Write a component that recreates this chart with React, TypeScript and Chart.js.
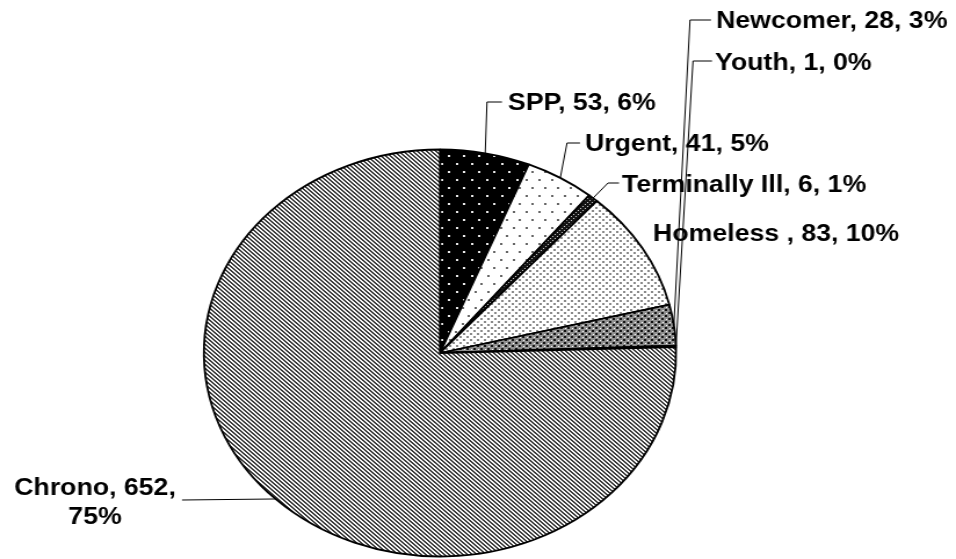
import React, { useEffect, useRef } from 'react';
import { Chart, registerables } from 'chart.js';

Chart.register(...registerables);

// ---------- data ----------
const categories = ['SPP', 'Urgent', 'Terminally Ill', 'Homeless ', 'Newcomer', 'Youth', 'Chrono'];
const counts = [53, 41, 6, 83, 28, 1, 652];

// ---------- layout (page pixels) ----------
const PAGE_W = 956;
const PAGE_H = 559;
const STRETCH = 1.16; // the reference is horizontally stretched
const CANVAS_W = Math.round(PAGE_W / STRETCH);
const SX = PAGE_W / CANVAS_W;
const PIE_CX = 440;
const PIE_CY = 353;
const PIE_R = 203.5;
const FONT = 'bold 23px "Liberation Sans", Arial, Helvetica, sans-serif';

type Pt = [number, number];
interface LabelPos {
  x: number;
  base: number;
  align: 'left' | 'center';
  split?: boolean;
  lineGap?: number;
  leader: Pt[] | null;
}
const labelLayout: LabelPos[] = [
  { x: 508, base: 110, align: 'left', leader: [[502, 102], [487, 102]] },
  { x: 585, base: 150.5, align: 'left', leader: [[580, 143], [567, 143]] },
  { x: 622, base: 191.5, align: 'left', leader: [[619, 183], [608, 183]] },
  { x: 653, base: 240.7, align: 'left', leader: null },
  { x: 716, base: 28.3, align: 'left', leader: [[711, 20], [690, 20]] },
  { x: 715, base: 70, align: 'left', leader: [[712, 61], [693, 61]] },
  { x: 95, base: 495, align: 'center', split: true, lineGap: 28.5, leader: [[182, 500]] },
];

// ---------- patterns ----------
function makeTile(w: number, h: number, fn: (x: number, y: number) => string): HTMLCanvasElement {
  const c = document.createElement('canvas');
  c.width = w;
  c.height = h;
  const g = c.getContext('2d')!;
  for (let y = 0; y < h; y++) {
    for (let x = 0; x < w; x++) {
      g.fillStyle = fn(x, y);
      g.fillRect(x, y, 1, 1);
    }
  }
  return c;
}
function inDot(x: number, y: number, dots: Pt[], s: number) {
  return dots.some(([dx, dy]) => x >= dx && x < dx + s && y >= dy && y < dy + s);
}

function buildPatterns(ctx: CanvasRenderingContext2D): (CanvasPattern | string)[] {
  const spp = makeTile(13, 16, (x, y) => (inDot(x, y, [[3, 3], [9, 11]], 2) ? '#e8e8e8' : '#000000'));
  const urgent = makeTile(11, 16, (x, y) => (inDot(x, y, [[2, 3], [7, 11]], 2) ? '#666666' : '#ffffff'));
  const term = makeTile(4, 4, (x, y) => ((x === 0 && y === 0) || (x === 2 && y === 2) ? '#c8c8c8' : '#151515'));
  const homeless = makeTile(6, 6, (x, y) => (inDot(x, y, [[0, 0], [3, 3]], 2) ? '#8a8a8a' : '#ffffff'));
  const newcomer = makeTile(6, 6, (x, y) => {
    if (inDot(x, y, [[0, 0], [3, 3]], 2)) return '#111111';
    if ((x === 4 && y === 1) || (x === 1 && y === 4)) return '#ffffff';
    return '#8f8f8f';
  });
  const chrono = makeTile(4, 4, (x, y) => ((((x - y) % 4) + 4) % 4 < 2 ? '#3a3a3a' : '#f8f8f8'));
  const p = (t: HTMLCanvasElement) => ctx.createPattern(t, 'repeat')!;
  return [p(spp), p(urgent), p(term), p(homeless), p(newcomer), '#ffffff', p(chrono)];
}

// ---------- labels plugin ----------
const total = counts.reduce((a, b) => a + b, 0);

const labelPlugin = {
  id: 'excelLabels',
  afterDraw(chart: any) {
    const ctx: CanvasRenderingContext2D = chart.ctx;
    const meta = chart.getDatasetMeta(0);
    ctx.save();
    ctx.font = FONT;
    ctx.fillStyle = '#000';
    ctx.textBaseline = 'alphabetic';
    meta.data.forEach((arc: any, i: number) => {
      const L = labelLayout[i];
      const pct = Math.round((counts[i] / total) * 100);
      const text = `${categories[i]}, ${counts[i]}, ${pct}%`;
      ctx.textAlign = L.align;
      if (L.split) {
        ctx.fillText(`${categories[i]}, ${counts[i]},`, L.x / SX, L.base);
        ctx.fillText(`${pct}%`, L.x / SX, L.base + (L.lineGap || 28));
      } else {
        ctx.fillText(text, L.x / SX, L.base);
      }
    });
    // leader lines
    ctx.strokeStyle = '#000';
    ctx.lineWidth = 1;
    meta.data.forEach((arc: any, i: number) => {
      const L = labelLayout[i];
      if (!L.leader) return;
      const { x, y, startAngle, endAngle, outerRadius } = arc.getProps(
        ['x', 'y', 'startAngle', 'endAngle', 'outerRadius'],
        true
      );
      const mid = (startAngle + endAngle) / 2;
      const px = x + Math.cos(mid) * outerRadius;
      const py = y + Math.sin(mid) * outerRadius;
      ctx.beginPath();
      L.leader.forEach(([lx, ly], k) => {
        if (k === 0) ctx.moveTo(lx / SX, ly);
        else ctx.lineTo(lx / SX, ly);
      });
      ctx.lineTo(px, py);
      ctx.stroke();
    });
    ctx.restore();
  },
};

export default function App() {
  const ref = useRef<HTMLCanvasElement>(null);
  useEffect(() => {
    const canvas = ref.current!;
    const ctx = canvas.getContext('2d')!;
    const patterns = buildPatterns(ctx);
    const cx = PIE_CX / SX;
    const chart = new Chart(canvas, {
      type: 'pie',
      data: {
        labels: categories,
        datasets: [
          {
            data: counts,
            backgroundColor: patterns as any,
            borderColor: '#000000',
            borderWidth: 1.8,
            radius: PIE_R,
          } as any,
        ],
      },
      options: {
        responsive: false,
        animation: false,
        events: [],
        layout: {
          padding: { top: PIE_CY * 2 - PAGE_H, bottom: 0, left: 0, right: CANVAS_W - 2 * cx },
        },
        plugins: {
          legend: { display: false },
          tooltip: { enabled: false },
        },
      },
      plugins: [labelPlugin],
    });
    return () => chart.destroy();
  }, []);
  return (
    <div style={{ position: 'absolute', left: 0, top: 0, width: PAGE_W, height: PAGE_H, background: '#fff' }}>
      <canvas
        ref={ref}
        width={CANVAS_W}
        height={PAGE_H}
        style={{ width: `${PAGE_W}px`, height: `${PAGE_H}px`, display: 'block' }}
      />
    </div>
  );
}
